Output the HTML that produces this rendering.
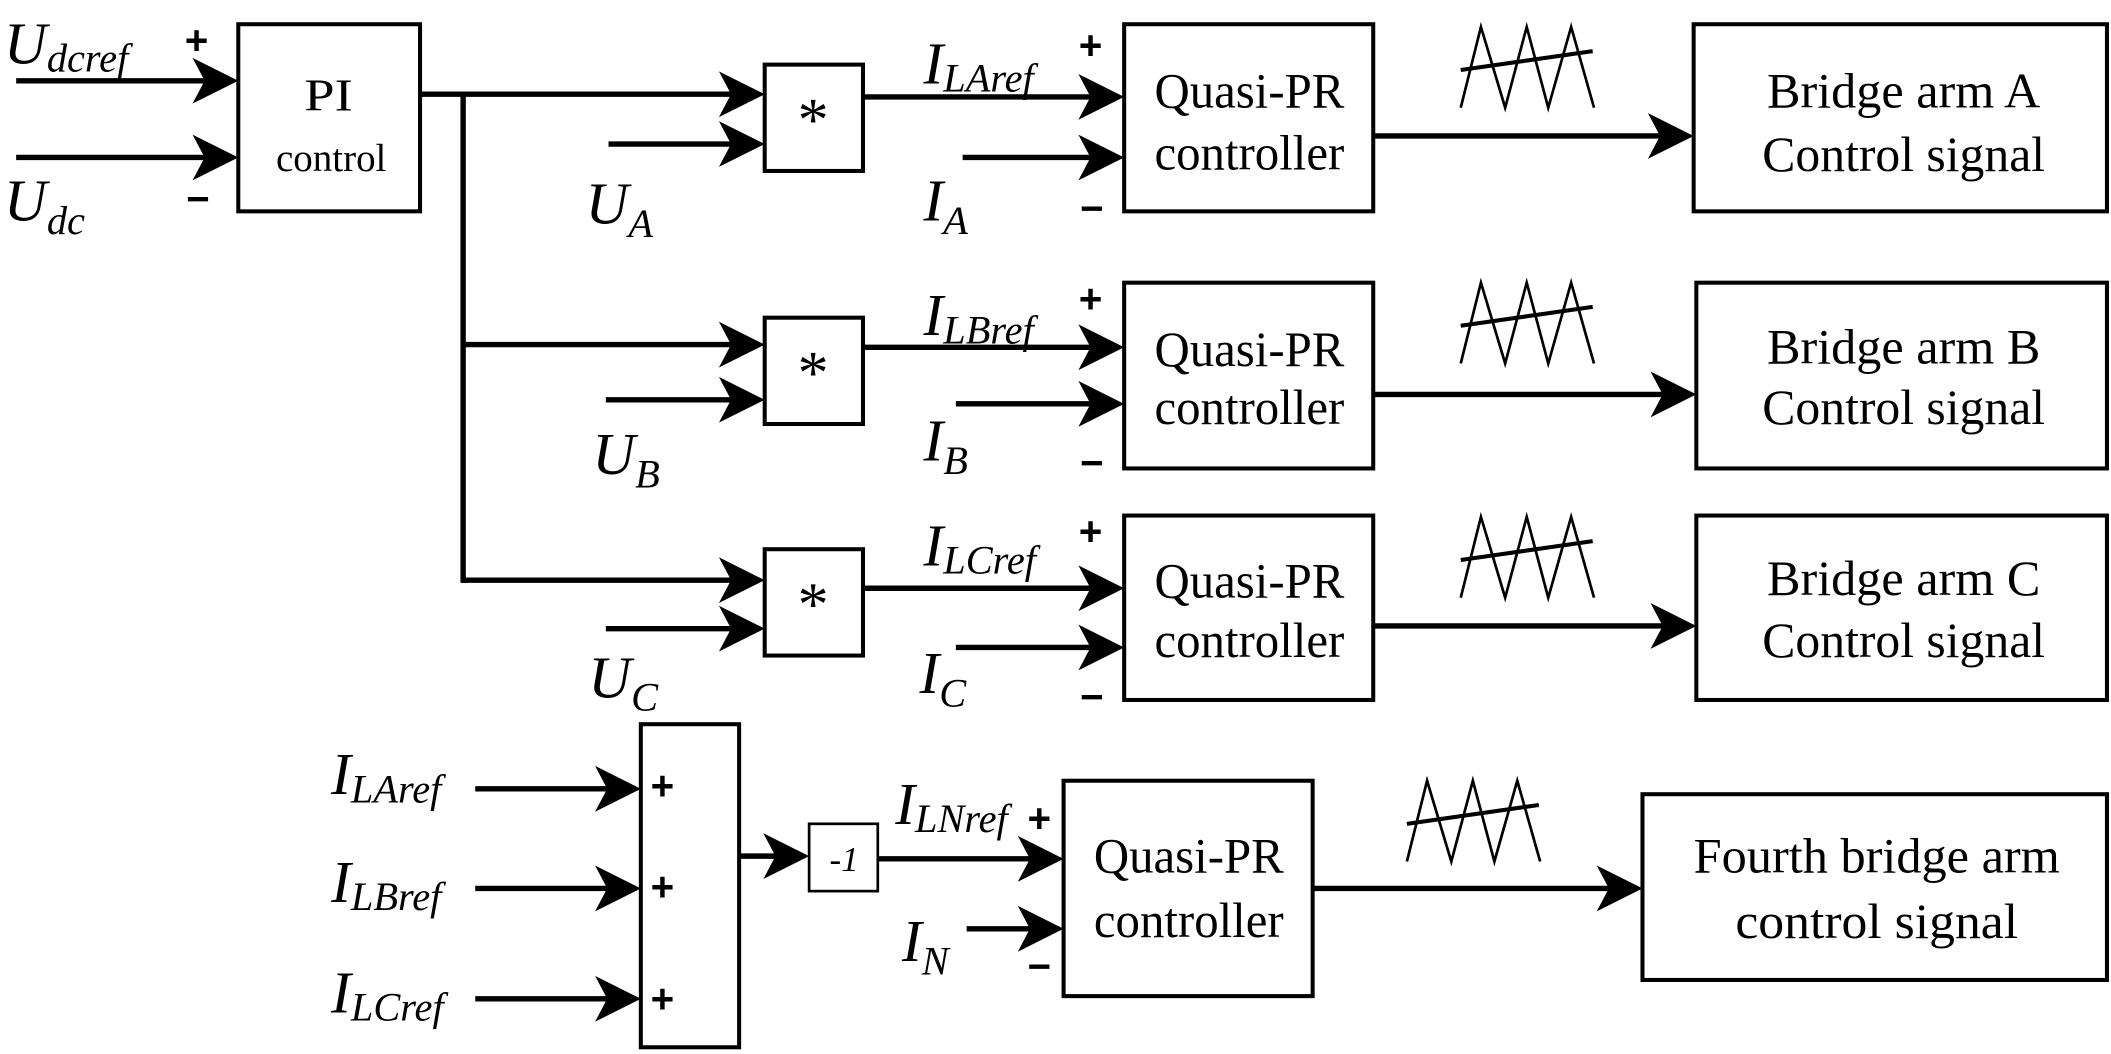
<!DOCTYPE html>
<html><head><meta charset="utf-8"><style>html,body{margin:0;padding:0;background:#fff}svg{display:block}</style></head>
<body>
<svg width="2111" height="1054" viewBox="0 0 1568 783" preserveAspectRatio="none" xmlns="http://www.w3.org/2000/svg">
<defs>
<path id="ah" d="M0,0 L-34,-17 L-25,0 L-34,17 Z" fill="#000"/>
<g id="wave"><polyline points="0,60 15,0 33,60 49,0 65,60 82,0 99,60" fill="none" stroke="#000" stroke-width="2"/><line x1="0" y1="32" x2="98" y2="18" stroke="#000" stroke-width="3"/></g>
</defs>
<g fill="none" stroke="#000" stroke-width="3">
<rect x="177" y="18" width="135" height="139"/>
<rect x="568" y="48" width="73" height="79"/>
<rect x="835" y="18" width="185" height="139"/>
<rect x="1258" y="18" width="307" height="139"/>
<rect x="568" y="236" width="73" height="79"/>
<rect x="835" y="210" width="185" height="138"/>
<rect x="1260" y="210" width="305" height="138"/>
<rect x="568" y="408" width="73" height="79"/>
<rect x="835" y="383" width="185" height="137"/>
<rect x="1260" y="383" width="305" height="137"/>
<rect x="476" y="538" width="73" height="240"/>
<rect x="601" y="612" width="51" height="50" stroke-width="2"/>
<rect x="790" y="580" width="185" height="160"/>
<rect x="1220" y="590" width="345" height="138"/>
</g>
<g stroke="#000" stroke-width="4" fill="none">
<line x1="12" y1="60" x2="160" y2="60"/><line x1="12" y1="117" x2="160" y2="117"/>
<line x1="312" y1="70" x2="552" y2="70"/><line x1="344" y1="70" x2="344" y2="433"/>
<line x1="344" y1="256" x2="552" y2="256"/><line x1="344" y1="431" x2="552" y2="431"/>
<line x1="452" y1="107" x2="552" y2="107"/><line x1="450" y1="297" x2="552" y2="297"/><line x1="450" y1="467" x2="552" y2="467"/>
<line x1="641" y1="72" x2="818" y2="72"/><line x1="715" y1="117" x2="818" y2="117"/>
<line x1="641" y1="258" x2="818" y2="258"/><line x1="710" y1="300" x2="818" y2="300"/>
<line x1="641" y1="437" x2="818" y2="437"/><line x1="710" y1="481" x2="818" y2="481"/>
<line x1="1020" y1="101" x2="1240" y2="101"/><line x1="1020" y1="293" x2="1242" y2="293"/><line x1="1020" y1="465" x2="1242" y2="465"/>
<line x1="353" y1="586" x2="460" y2="586"/><line x1="353" y1="660" x2="460" y2="660"/><line x1="353" y1="742" x2="460" y2="742"/>
<line x1="549" y1="636" x2="585" y2="636"/><line x1="652" y1="638" x2="774" y2="638"/><line x1="718" y1="690" x2="774" y2="690"/>
<line x1="975" y1="660" x2="1202" y2="660"/>
</g>
<use href="#ah" x="177" y="60"/><use href="#ah" x="177" y="117"/>
<use href="#ah" x="568" y="70"/><use href="#ah" x="568" y="107"/><use href="#ah" x="835" y="72"/><use href="#ah" x="835" y="117"/><use href="#ah" x="1258" y="101"/>
<use href="#ah" x="568" y="256"/><use href="#ah" x="568" y="297"/><use href="#ah" x="835" y="258"/><use href="#ah" x="835" y="300"/><use href="#ah" x="1260" y="293"/>
<use href="#ah" x="568" y="431"/><use href="#ah" x="568" y="467"/><use href="#ah" x="835" y="437"/><use href="#ah" x="835" y="481"/><use href="#ah" x="1260" y="465"/>
<use href="#ah" x="476" y="586"/><use href="#ah" x="476" y="660"/><use href="#ah" x="476" y="742"/><use href="#ah" x="601" y="636"/>
<use href="#ah" x="790" y="638"/><use href="#ah" x="790" y="690"/><use href="#ah" x="1220" y="660"/>
<use href="#wave" x="1085" y="20"/><use href="#wave" x="1085" y="210"/><use href="#wave" x="1085" y="384"/><use href="#wave" x="1045" y="580"/>
<g font-family="Liberation Serif, serif" font-size="37" text-anchor="middle" fill="#000" lengthAdjust="spacingAndGlyphs">
<text x="244" y="82" font-size="34" textLength="36" lengthAdjust="spacingAndGlyphs">PI</text><text x="246" y="127" font-size="29" textLength="82" lengthAdjust="spacingAndGlyphs">control</text>
<text x="604" y="104" font-size="46">*</text><text x="604" y="292" font-size="46">*</text><text x="604" y="464" font-size="46">*</text>
<text x="928" y="80" textLength="141" lengthAdjust="spacingAndGlyphs">Quasi-PR</text><text x="928" y="126" textLength="141" lengthAdjust="spacingAndGlyphs">controller</text>
<text x="928" y="272" textLength="141" lengthAdjust="spacingAndGlyphs">Quasi-PR</text><text x="928" y="315" textLength="141" lengthAdjust="spacingAndGlyphs">controller</text>
<text x="928" y="444" textLength="141" lengthAdjust="spacingAndGlyphs">Quasi-PR</text><text x="928" y="488" textLength="141" lengthAdjust="spacingAndGlyphs">controller</text>
<text x="883" y="648" textLength="141" lengthAdjust="spacingAndGlyphs">Quasi-PR</text><text x="883" y="696" textLength="141" lengthAdjust="spacingAndGlyphs">controller</text>
<text x="1414" y="80" textLength="203" lengthAdjust="spacingAndGlyphs">Bridge arm A</text><text x="1414" y="127" textLength="210" lengthAdjust="spacingAndGlyphs">Control signal</text>
<text x="1414" y="270" textLength="203" lengthAdjust="spacingAndGlyphs">Bridge arm B</text><text x="1414" y="315" textLength="210" lengthAdjust="spacingAndGlyphs">Control signal</text>
<text x="1414" y="442" textLength="203" lengthAdjust="spacingAndGlyphs">Bridge arm C</text><text x="1414" y="488" textLength="210" lengthAdjust="spacingAndGlyphs">Control signal</text>
<text x="1394" y="648" textLength="272" lengthAdjust="spacingAndGlyphs">Fourth bridge arm</text><text x="1394" y="697" textLength="210" lengthAdjust="spacingAndGlyphs">control signal</text>
<text x="627" y="647" font-size="26" font-style="italic">-1</text>
</g>
<g font-family="Liberation Serif, serif" font-style="italic" font-size="44" fill="#000">
<text x="3" y="47">U<tspan font-size="30" dy="6">dcref</tspan></text>
<text x="3" y="164">U<tspan font-size="30" dy="10">dc</tspan></text>
<text x="435" y="166">U<tspan font-size="30" dy="10">A</tspan></text>
<text x="440" y="352">U<tspan font-size="30" dy="10">B</tspan></text>
<text x="437" y="518">U<tspan font-size="30" dy="10">C</tspan></text>
<text x="686" y="62">I<tspan font-size="30" dy="6">LAref</tspan></text>
<text x="686" y="164">I<tspan font-size="30" dy="10">A</tspan></text>
<text x="686" y="249">I<tspan font-size="30" dy="6">LBref</tspan></text>
<text x="686" y="342">I<tspan font-size="30" dy="10">B</tspan></text>
<text x="686" y="420">I<tspan font-size="30" dy="6">LCref</tspan></text>
<text x="683" y="515">I<tspan font-size="30" dy="10">C</tspan></text>
<text x="246" y="590">I<tspan font-size="30" dy="6">LAref</tspan></text>
<text x="246" y="670">I<tspan font-size="30" dy="6">LBref</tspan></text>
<text x="246" y="752">I<tspan font-size="30" dy="6">LCref</tspan></text>
<text x="665" y="612">I<tspan font-size="30" dy="6">LNref</tspan></text>
<text x="670" y="714">I<tspan font-size="30" dy="10">N</tspan></text>
</g>
<g font-family="Liberation Sans, sans-serif" font-weight="bold" font-size="30" fill="#000" text-anchor="middle">
<text x="146" y="40">+</text><text x="147" y="158">−</text>
<text x="810" y="44">+</text><text x="811" y="165">−</text>
<text x="810" y="232">+</text><text x="811" y="354">−</text>
<text x="810" y="405">+</text><text x="811" y="528">−</text>
<text x="772" y="618">+</text><text x="772" y="728">−</text>
<text x="492" y="594">+</text><text x="492" y="669">+</text><text x="492" y="752">+</text>
</g>
</svg>
</body></html>
